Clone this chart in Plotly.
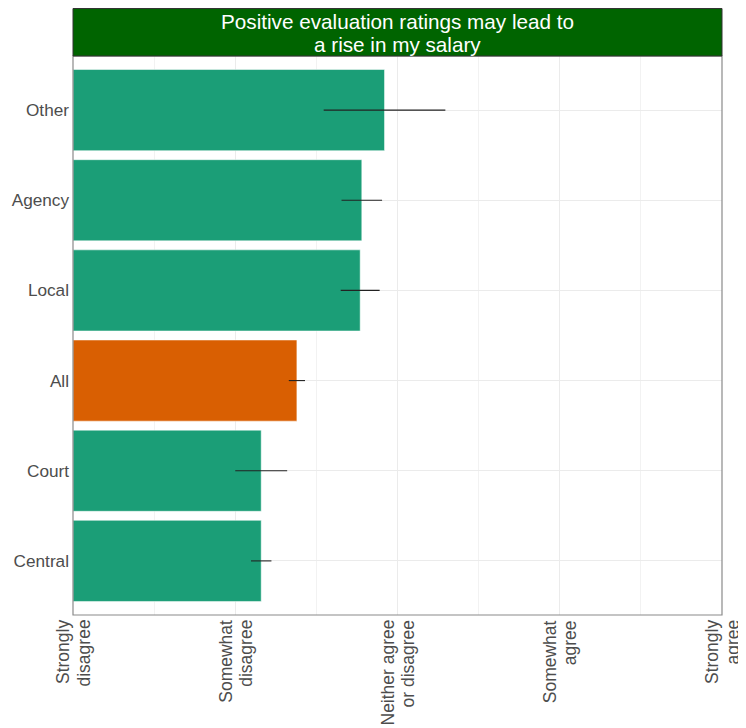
import plotly.graph_objects as go

categories = ["Central", "Court", "All", "Local", "Agency", "Other"]
means = [2.16, 2.16, 2.38, 2.77, 2.78, 2.92]
errors = [0.063, 0.16, 0.05, 0.12, 0.125, 0.375]
colors = ["#1B9E77", "#1B9E77", "#D95F02", "#1B9E77", "#1B9E77", "#1B9E77"]
tick_vals = [1, 2, 3, 4, 5]
tick_lines = [["Strongly", "disagree"], ["Somewhat", "disagree"], ["Neither agree", "or disagree"],
              ["Somewhat", "agree"], ["Strongly", "agree"]]
title_lines = ["Positive evaluation ratings may lead to", "a rise in my salary"]

base_val = 1
fig = go.Figure()
fig.add_trace(go.Bar(
    y=categories,
    x=[m - base_val for m in means],
    base=base_val,
    orientation="h",
    width=0.9,
    marker=dict(color=colors, line=dict(color="rgba(255,255,255,0.5)", width=1)),
    error_x=dict(type="data", array=errors, visible=True, color="#222222",
                 thickness=1.1, width=0),
    showlegend=False,
    hoverinfo="skip",
))

# page has an 8px body margin, so the figure is offset by (8, 8)
OFF = 8
W = 746 - OFF
H = 728 - OFF
plot_left = 73 - OFF
plot_right = 722 - OFF
plot_top = 56 - OFF
plot_bottom = 615 - OFF
plot_h = plot_bottom - plot_top
strip_h = 47.5

annotations = []
# strip title, two lines placed separately for tighter line spacing
for line, ysh in zip(title_lines, [35, 11.5]):
    annotations.append(dict(
        text=line, xref="paper", yref="paper", x=0.5, y=1, yshift=ysh,
        showarrow=False, xanchor="center", yanchor="middle",
        font=dict(color="white", size=20.7, family="Liberation Sans, Arial, sans-serif")))
# x-axis category labels, rotated, each line separate
for tv, lines in zip(tick_vals, tick_lines):
    for line, xsh in zip(lines, [-10, 10]):
        annotations.append(dict(
            text=line, xref="x", yref="paper", x=tv, y=0, xshift=xsh, yshift=-3,
            textangle=-90, showarrow=False, xanchor="center", yanchor="top",
            font=dict(color="#4D4D4D", size=17.5, family="Liberation Sans, Arial, sans-serif")))

fig.update_layout(
    width=W, height=H,
    margin=dict(l=plot_left, r=W - plot_right, t=plot_top, b=H - plot_bottom),
    plot_bgcolor="white", paper_bgcolor="white",
    font=dict(family="Liberation Sans, Arial, sans-serif", color="#4D4D4D", size=17),
    xaxis=dict(range=[1, 5], tickvals=tick_vals, showticklabels=False,
               showgrid=True, gridcolor="#EBEBEB", gridwidth=1,
               minor=dict(dtick=0.5, showgrid=True, gridcolor="#F2F2F2", gridwidth=1),
               zeroline=False, ticks="", showline=False, automargin=False),
    yaxis=dict(range=[-0.6, 5.6], showgrid=True, gridcolor="#EBEBEB", zeroline=False, ticks="",
               tickfont=dict(size=17.2, color="#4D4D4D"), ticklabelstandoff=3,
               categoryorder="array", categoryarray=categories, showline=False,
               automargin=False),
    shapes=[
        dict(type="rect", xref="paper", yref="paper", x0=0, x1=1, y0=0, y1=1,
             line=dict(color="#8A8A8A", width=1.2), fillcolor="rgba(0,0,0,0)", layer="above"),
        dict(type="rect", xref="paper", yref="paper", x0=0, x1=1, y0=1,
             y1=1 + strip_h / plot_h, line=dict(color="#333333", width=1),
             fillcolor="#006400", layer="above"),
    ],
    annotations=annotations,
)

fig.write_html("out.html")
